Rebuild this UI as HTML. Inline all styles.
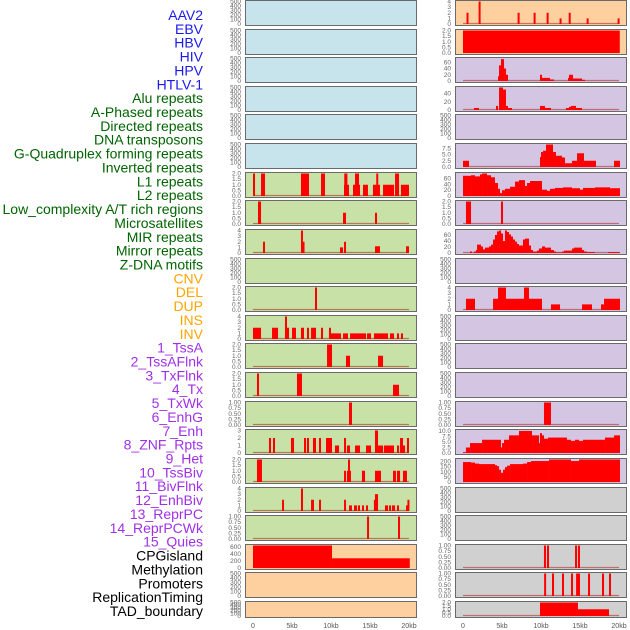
<!DOCTYPE html>
<html><head><meta charset="utf-8"><style>
html,body{margin:0;padding:0;background:#fff;}
svg{display:block;font-family:"Liberation Sans",sans-serif;}
</style></head><body>
<svg id="chart" width="630" height="630" viewBox="0 0 630 630"></svg>
<script>
// ---- data: segments [startKb, endKb, value] ----
const labelNames = ["AAV2","EBV","HBV","HIV","HPV","HTLV-1","Alu repeats","A-Phased repeats","Directed repeats","DNA transposons","G-Quadruplex forming repeats","Inverted repeats","L1 repeats","L2 repeats","Low_complexity A/T rich regions","Microsatellites","MIR repeats","Mirror repeats","Z-DNA motifs","CNV","DEL","DUP","INS","INV","1_TssA","2_TssAFlnk","3_TxFlnk","4_Tx","5_TxWk","6_EnhG","7_Enh","8_ZNF_Rpts","9_Het","10_TssBiv","11_BivFlnk","12_EnhBiv","13_ReprPC","14_ReprPCWk","15_Quies","CPGisland","Methylation","Promoters","ReplicationTiming","TAD_boundary"];
const xTickLabels = ["0","5kb","10kb","15kb","20kb"];
const xTickValues = [0,5,10,15,20];

const L6 = [[0,0.26,2],[1.03,1.54,2],[6.15,7.18,2],[8.72,9.23,2],[11.67,12.31,1],[11.7,12.1,2],[12.82,13.72,1],[13.08,13.59,2],[14.1,14.74,1],[15.38,16.28,1],[15.8,15.95,2],[16.67,18.08,1],[18.21,18.72,2],[18.97,20,1]];
const L7 = [[0.64,1.03,2],[11.54,11.92,1],[15.64,15.9,1]];
const L8 = [[1.28,1.54,2],[6.15,6.35,4],[6.35,6.5,2],[11.15,11.54,1],[11.67,11.92,2],[15.64,16.28,1.2],[19.62,20,1.2]];
const L10 = [[7.95,8.2,2]];
const L11 = [[0,1.03,2],[2.44,3.21,2],[4.1,4.62,2],[4.1,4.3,4],[5.0,5.51,2],[6.15,6.54,2],[6.92,7.18,2],[7.44,8.08,2],[8.72,8.97,2],[9.74,10.0,2],[10.0,11.28,1],[11.54,12.18,1],[12.44,14.49,1],[14.62,15.13,1],[15.51,17.31,1],[17.56,18.08,1],[18.46,18.72,1],[18.97,19.23,1]];
const L12 = [[9.49,10.13,2],[11.92,12.44,1],[16.03,16.67,1]];
const L13 = [[0.51,0.77,2],[5.64,6.28,2],[17.95,18.72,1]];
const L14 = [[12.31,12.69,1]];
const L15 = [[2.05,2.31,2],[2.56,2.82,2],[4.87,5.26,2],[6.54,6.79,2],[6.92,7.18,2],[7.69,8.08,2],[8.46,8.72,2],[9.36,10.13,2],[10.51,11.03,1],[11.67,11.92,2],[12.05,12.44,1],[13.08,13.72,1],[14.49,15.13,1],[15.64,16.03,3],[16.03,16.67,1],[16.79,18.08,1],[18.46,18.72,1],[18.85,19.23,2],[19.23,19.49,1],[19.74,20,2]];
const L16 = [[0.51,1.15,2],[11.67,11.92,1],[12.05,12.56,1],[12.18,12.44,2],[13.97,14.36,1],[15.64,16.41,1],[17.95,18.33,1],[18.46,18.85,1],[19.23,19.74,1]];
const L17 = [[3.72,3.97,2],[6.15,6.41,4],[7.44,7.82,2],[8.46,8.72,2],[11.67,11.92,2],[12.31,12.69,1],[12.95,13.33,1],[13.46,13.72,1],[13.97,14.23,1],[14.49,14.74,1],[15.64,16.03,3],[15.5,15.64,2],[16.92,17.31,1],[17.44,17.69,1],[17.82,18.21,1],[18.46,18.72,1],[19.62,20,1],[19.8,20,2]];
const L18 = [[14.62,14.87,1],[18.59,18.85,1]];
const L19 = [[0,10.13,650],[10.13,20.1,280]];

const R0 = [[0.45,0.6,2],[2.0,2.12,4],[7.0,7.12,2],[9.05,9.18,2],[10.72,10.85,2],[12.38,12.5,1],[13.55,13.68,2],[15.85,15.98,1],[19.82,19.95,1]];
const R1 = [[0,20.1,2]];
const R2 = [[4.49,4.62,15],[4.62,4.87,50],[4.87,5.26,70],[5.26,5.51,40],[5.51,5.77,20],[9.87,10.13,20],[10.13,11.15,10],[11.15,11.67,5],[13.46,13.59,10],[13.59,14.1,20],[14.1,15.26,8],[15.26,15.64,4]];
const R3 = [[1.41,2.05,5],[4.23,4.49,10],[4.62,5.13,55],[5.13,5.51,50],[5.51,5.77,10],[5.77,6.28,5],[9.87,10.51,10],[10.51,11.28,5],[13.2,13.59,5],[13.59,13.85,8],[13.85,14.49,10],[14.49,15.26,5]];
const R5 = [[0,0.77,2.5],[9.87,10.0,4],[10.0,10.26,6],[10.26,10.64,6.5],[10.64,11.54,9],[11.54,11.92,6],[11.92,12.69,4.5],[12.69,13.08,3.8],[13.08,13.97,1.5],[13.97,14.62,2.5],[14.62,15.51,5.5],[15.51,17.05,2.5],[19.36,20.13,2.5]];
const R6 = [[0,1.03,70],[1.03,1.54,72],[1.54,2.18,68],[2.18,2.44,75],[2.44,3.08,78],[3.08,3.59,72],[3.59,4.1,65],[4.1,4.49,45],[4.49,4.74,25],[4.74,5.0,10],[5.0,5.38,20],[5.38,6.03,25],[6.03,6.67,32],[6.67,7.18,50],[7.18,7.95,55],[7.95,8.21,35],[8.21,8.59,45],[8.59,10.13,52],[10.13,10.77,22],[10.77,11.15,18],[11.15,11.79,25],[11.79,12.82,28],[12.82,13.97,30],[13.97,15.0,27],[15.0,15.38,22],[15.38,16.92,28],[16.92,18.85,30],[18.85,20.13,27]];
const R7 = [[0.38,1.03,2],[4.87,5.13,2]];
const R8 = [[0.9,1.15,5],[1.41,1.67,5],[1.67,1.8,10],[1.8,2.31,28],[2.31,2.56,22],[2.56,2.82,12],[2.82,3.33,18],[3.33,3.59,22],[3.59,3.85,28],[3.85,4.1,45],[4.1,4.36,60],[4.36,4.62,72],[4.62,4.87,75],[4.87,5.13,65],[5.13,5.38,40],[5.38,5.64,75],[5.64,5.9,70],[5.9,6.15,62],[6.15,6.41,55],[6.41,6.67,45],[6.67,6.92,38],[6.92,7.18,30],[7.18,7.69,25],[7.69,7.95,45],[7.95,8.46,48],[8.46,8.72,25],[8.72,8.97,10],[8.97,9.49,5],[9.49,9.74,8],[9.74,10.13,15],[10.13,10.51,22],[10.51,11.28,18],[11.28,11.67,10],[11.67,11.92,5],[11.92,12.69,2],[12.69,12.95,5],[12.95,13.97,8],[13.97,14.23,15],[14.23,15.26,18],[15.26,15.51,10],[15.51,15.9,5],[15.9,16.92,3],[18.59,20.13,3]];
const R10 = [[0.38,1.54,2],[3.85,4.49,2],[4.49,5.51,4],[5.51,7.82,2],[7.82,8.46,4],[8.46,10.13,2],[11.28,12.44,1],[15.26,16.54,1],[17.69,18.08,1],[18.08,20.13,2]];
const R14 = [[10.38,11.28,1]];
const R15 = [[0,0.38,0.3],[0.38,0.9,2.5],[0.9,2.44,4.5],[2.44,4.87,6],[4.87,5.0,2.5],[5.0,5.26,4.5],[5.26,5.9,6],[5.9,7.18,8],[7.18,8.85,10],[8.85,9.74,8],[9.74,9.87,4.5],[9.87,10.13,9],[10.13,10.38,8],[10.38,10.9,6.5],[10.9,13.33,7],[13.33,13.85,6],[13.85,14.36,5.5],[14.36,14.87,6],[14.87,15.38,5.5],[15.38,18.21,6],[18.21,19.36,7],[19.36,20.13,8]];
const R16 = [[0,1.03,195],[1.03,1.54,190],[1.54,2.05,180],[2.05,4.1,175],[4.1,4.36,165],[4.36,4.62,155],[4.62,4.87,120],[4.87,5.13,90],[5.13,5.38,120],[5.38,5.64,145],[5.64,6.03,160],[6.03,7.69,175],[7.69,8.21,180],[8.21,8.72,195],[8.72,11.03,205],[11.03,13.85,220],[13.85,14.87,205],[14.87,20.13,220]];
const R19 = [[10.38,10.64,1],[10.77,11.03,1],[14.36,14.62,1],[14.74,15.0,1]];
const R20 = [[10.4,10.64,1],[11.41,11.67,1],[12.69,12.95,1],[13.85,14.1,1],[14.5,15.0,1],[16.03,16.28,1],[17.82,18.08,1],[18.72,18.97,1]];
const R21 = [[9.87,14.74,2],[14.74,18.72,1]];

// ---- layout/style config ----
const BLUE="#c7e4ec", GREEN="#c8e1a6", ORANGE="#ffd09f", PURPLE="#d4c6e2", GRAY="#d0d0d0";
const leftFill=[BLUE,BLUE,BLUE,BLUE,BLUE,BLUE,GREEN,GREEN,GREEN,GREEN,GREEN,GREEN,GREEN,GREEN,GREEN,GREEN,GREEN,GREEN,GREEN,ORANGE,ORANGE,ORANGE];
const rightFill=[ORANGE,ORANGE,PURPLE,PURPLE,PURPLE,PURPLE,PURPLE,PURPLE,PURPLE,PURPLE,PURPLE,PURPLE,PURPLE,PURPLE,PURPLE,PURPLE,PURPLE,GRAY,GRAY,GRAY,GRAY,GRAY];
const leftData={6:[L6,2,0.5,1],7:[L7,2,0.5,1],8:[L8,4,1,0],10:[L10,2,0.5,1],11:[L11,4,1,0],12:[L12,2,0.5,1],13:[L13,2,0.5,1],14:[L14,1,0.25,2],15:[L15,3,1,0],16:[L16,2,0.5,1],17:[L17,4,1,0],18:[L18,1,0.25,2],19:[L19,650,200,0]};
const rightData={0:[R0,4,1,0],1:[R1,2,0.5,1],2:[R2,72,20,0],3:[R3,55,20,0],5:[R5,9,2.5,1],6:[R6,78,20,0],7:[R7,2,0.5,1],8:[R8,75,20,0],10:[R10,4,1,0],14:[R14,1,0.25,2],15:[R15,10.2,2.5,1],16:[R16,220,50,0],19:[R19,1,0.25,2],20:[R20,1,0.25,2],21:[R21,2,0.5,1]};
const labelColors=[];
for(let i=0;i<44;i++){labelColors.push(i<6?"#1a1aee":i<19?"#006400":i<24?"#ffa500":i<39?"#a030e8":"#000");}

const svg=document.getElementById('chart');
const NS="http://www.w3.org/2000/svg";
function mk(tag,attrs,parent){const e=document.createElementNS(NS,tag);for(const k in attrs)e.setAttribute(k,attrs[k]);(parent||svg).appendChild(e);return e;}

// labels
labelNames.forEach((t,i)=>{
  const e=mk('text',{x:203,y:15+i*13.86+5,'text-anchor':'end','font-size':14,fill:labelColors[i]});
  e.textContent=t;
  
  
});

function drawPanel(col,row){
  const px=col?455:245, pw=171;
  const top=Math.round(row*28.62), h=row===21?16:25;
  const fill=(col?rightFill:leftFill)[row];
  const d=(col?rightData:leftData)[row];
  const g=mk('g',{});
  
  
  mk('rect',{x:px+0.5,y:top+0.5,width:pw,height:h,fill:fill,stroke:'#6a6a6a','stroke-width':1},g);
  const yTop=top+1.5, yBot=top+h-1;
  const max=d?d[1]:500, step=d?d[2]:100, dec=d?d[3]:0;
  const ys=v=>yBot-(v/max)*(yBot-yTop);
  const x0=col?463:253;
  const xs=kb=>x0+kb*7.8;
  for(let v=0;v<=max+1e-9;v+=step){
    const t=mk('text',{x:px-4,y:ys(v)+2,'text-anchor':'end','font-size':6.5,fill:'#666'},g);
    t.textContent=v.toFixed(dec);
  }
  if(d){
    mk('line',{x1:xs(0),x2:xs(20),y1:yBot-0.5,y2:yBot-0.5,stroke:'#b03030','stroke-width':1.2,opacity:0.6},g);
    d[0].forEach(s=>{
      const x1=xs(s[0]),x2=xs(s[1]);
      const b=mk('rect',{x:x1,y:ys(s[2]),width:Math.max(2,x2-x1),height:yBot-ys(s[2]),fill:'#ff0000'},g);
      
      
    });
  }
  if(row===21){
    xTickValues.forEach((v,i)=>{
      const t=mk('text',{x:xs(v),y:628,'text-anchor':'middle','font-size':7,fill:'#555'},g);
      t.textContent=xTickLabels[i];
    });
  }
}
for(let c=0;c<2;c++)for(let r=0;r<22;r++)drawPanel(c,r);
</script>
</body></html>
